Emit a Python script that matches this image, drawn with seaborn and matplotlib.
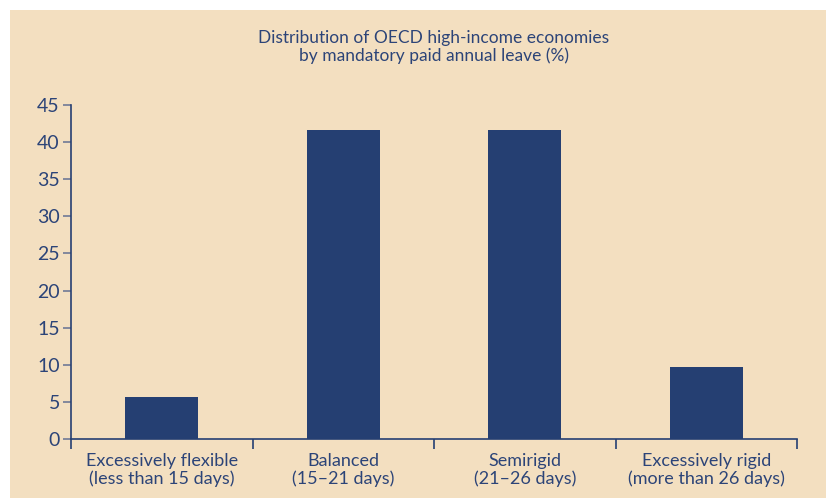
import matplotlib
matplotlib.use("Agg")
import matplotlib.pyplot as plt
import seaborn as sns
import pandas as pd
from matplotlib.patches import Rectangle

categories = [
    "Excessively flexible\n(less than 15 days)",
    "Balanced\n(15\u201321 days)",
    "Semirigid\n(21\u201326 days)",
    "Excessively rigid\n(more than 26 days)",
]
shares = [5.7, 41.6, 41.6, 9.7]
y_ticks = [0, 5, 10, 15, 20, 25, 30, 35, 40, 45]
title = "Distribution of OECD high-income economies\nby mandatory paid annual leave (%)"

BG = "#f3dfc0"
NAVY = "#253f72"
TEXT = "#2c4478"

sns.set_style("ticks")
plt.rcParams["font.family"] = ["Lato", "DejaVu Sans"]

df = pd.DataFrame({"category": categories, "share": shares})

fig = plt.figure(figsize=(8.26, 4.98), dpi=100, facecolor="white")
fig.patches.append(Rectangle((10 / 826, 0), 1, 1 - 10 / 498, transform=fig.transFigure,
                             facecolor=BG, edgecolor="none", zorder=-10))
ax = fig.add_axes([71 / 826, 1 - 439.3 / 498, (797 - 71) / 826, (439.3 - 104.7) / 498])
ax.set_facecolor("none")

sns.barplot(data=df, x="category", y="share", color=NAVY, saturation=1, width=0.4,
            linewidth=0, ax=ax)

ax.set_xlim(-0.5, 3.5)
ax.set_ylim(0, 45)
ax.set_yticks(y_ticks)
ax.set_xlabel("")
ax.set_ylabel("")

for s in ["top", "right"]:
    ax.spines[s].set_visible(False)
for s in ["left", "bottom"]:
    ax.spines[s].set_color(NAVY)
    ax.spines[s].set_linewidth(1.2)

ax.tick_params(axis="y", colors="#6f7a96", labelcolor=TEXT, labelsize=14, length=6, width=1.2, pad=2)
ax.tick_params(axis="x", which="major", length=0, labelcolor=TEXT, labelsize=13, pad=10)
ax.set_xticks([-0.5, 0.5, 1.5, 2.5, 3.5], minor=True)
ax.tick_params(axis="x", which="minor", length=7, width=1.2, color=NAVY)
for lbl in ax.get_xticklabels():
    lbl.set_linespacing(1.1)

fig.text(434 / 826, 1 - 47 / 498, title, ha="center", va="center", color=TEXT,
         fontsize=12.5, linespacing=1.1)

fig.savefig("out.png", dpi=100, facecolor="white")
